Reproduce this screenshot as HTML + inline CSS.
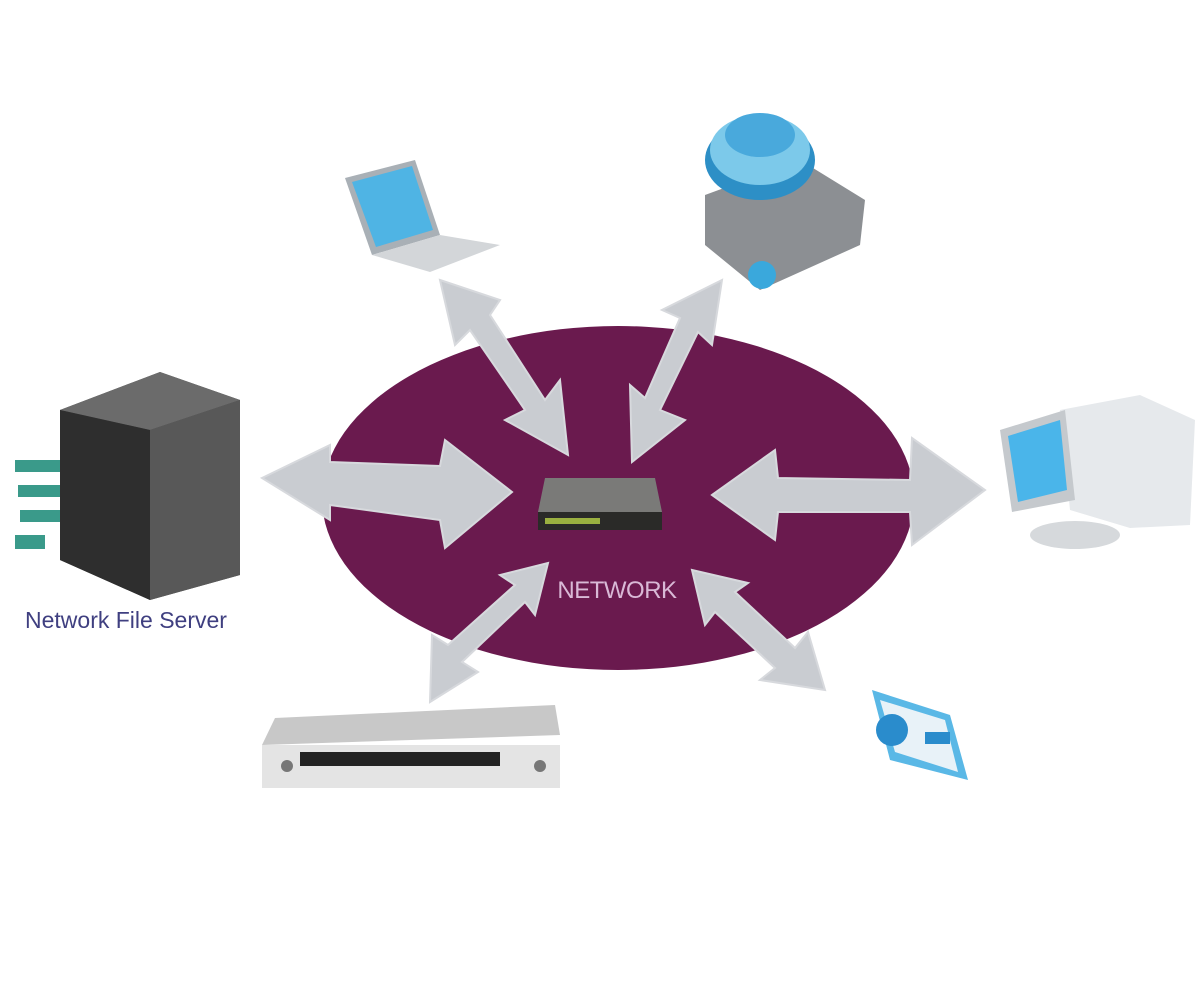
<!DOCTYPE html>
<html><head><meta charset="utf-8"><style>
html,body{margin:0;padding:0;background:#fff;}
svg{display:block}
</style></head><body>
<svg width="1200" height="981" viewBox="0 0 1200 981" xmlns="http://www.w3.org/2000/svg">
<rect width="1200" height="981" fill="#fff"/>
<!-- ellipse -->
<ellipse cx="618" cy="498" rx="296" ry="172" fill="#6a1a4e"/>
<g fill="#c9ccd1" stroke="#d7d9dd" stroke-width="2">
  <!-- left arrow -->
  <polygon points="262,478 330,445 330,462 440,466 445,440 512,492 445,548 440,520 330,505 330,520"/>
  <!-- right arrow -->
  <polygon points="712,495 775,450 778,478 910,480 912,438 985,490 912,545 910,512 778,512 775,540"/>
  <!-- upper-left -->
  <polygon points="440,280 500,300 490,315 545,400 560,380 568,455 505,420 525,410 470,330 455,345"/>
  <!-- upper-right -->
  <polygon points="722,280 712,345 698,332 660,410 685,420 632,462 630,385 645,398 680,318 662,310"/>
  <!-- lower-left -->
  <polygon points="430,702 432,635 448,645 515,585 500,575 548,563 535,615 525,602 462,662 478,672"/>
  <!-- lower-right -->
  <polygon points="825,690 760,680 775,668 715,612 705,625 692,570 748,583 735,592 795,648 808,632"/>
</g>
<!-- router -->
<polygon points="545,478 655,478 662,512 538,512" fill="#7a7a78"/>
<rect x="538" y="512" width="124" height="18" fill="#2a2a28"/>
<rect x="545" y="518" width="55" height="6" fill="#9ab040"/>
<text x="617" y="598" font-family="Liberation Sans, sans-serif" font-size="24" fill="#d9b9d6" text-anchor="middle" letter-spacing="-0.5">NETWORK</text>
<!-- server -->
<polygon points="60,410 160,372 240,400 240,575 150,600 60,560" fill="#4a4a4a"/>
<polygon points="60,410 160,372 240,400 150,430" fill="#6b6b6b"/>
<polygon points="150,430 240,400 240,575 150,600" fill="#585858"/>
<polygon points="60,410 150,430 150,600 60,560" fill="#2e2e2e"/>
<g fill="#3a9a8a"><rect x="15" y="460" width="45" height="12"/><rect x="18" y="485" width="42" height="12"/><rect x="20" y="510" width="40" height="12"/><rect x="15" y="535" width="30" height="14"/></g>
<text x="25" y="628" font-family="Liberation Sans, sans-serif" font-size="23" fill="#3f3f80">Network File Server</text>
<!-- laptop -->
<polygon points="345,178 415,160 440,235 372,255" fill="#a9b0b6"/>
<polygon points="352,182 412,166 433,230 376,247" fill="#4fb4e4"/>
<polygon points="372,255 440,235 500,245 430,272" fill="#d3d6d9"/>
<!-- projector -->
<polygon points="705,195 800,160 865,200 860,245 760,290 705,245" fill="#8c8f93"/>
<ellipse cx="760" cy="160" rx="55" ry="40" fill="#2d8fc6"/>
<ellipse cx="760" cy="150" rx="50" ry="35" fill="#7cc9ea"/>
<ellipse cx="760" cy="135" rx="35" ry="22" fill="#49a9dc"/>
<circle cx="762" cy="275" r="14" fill="#3aa8dc"/>
<!-- computer -->
<polygon points="1060,410 1140,395 1195,420 1190,525 1130,528 1070,510" fill="#e6e9ec"/>
<polygon points="1000,430 1065,410 1075,500 1012,512" fill="#c5c9cd"/>
<polygon points="1008,436 1060,420 1067,490 1018,502" fill="#4ab5ea"/>
<ellipse cx="1075" cy="535" rx="45" ry="14" fill="#d6d9dc"/>
<!-- camera -->
<polygon points="872,690 950,715 968,780 890,760" fill="#5ab8e6"/>
<polygon points="880,700 945,720 958,772 895,752" fill="#e8f2f8"/>
<circle cx="892" cy="730" r="16" fill="#2a8ccc"/>
<rect x="925" y="732" width="25" height="12" fill="#2a8ccc"/>
<!-- receiver -->
<polygon points="275,718 555,705 560,735 262,745" fill="#c8c8c8"/>
<rect x="262" y="745" width="298" height="43" fill="#e4e4e4"/>
<rect x="300" y="752" width="200" height="14" fill="#222"/>
<circle cx="287" cy="766" r="6" fill="#777"/>
<circle cx="540" cy="766" r="6" fill="#777"/>
</svg>
</body></html>
